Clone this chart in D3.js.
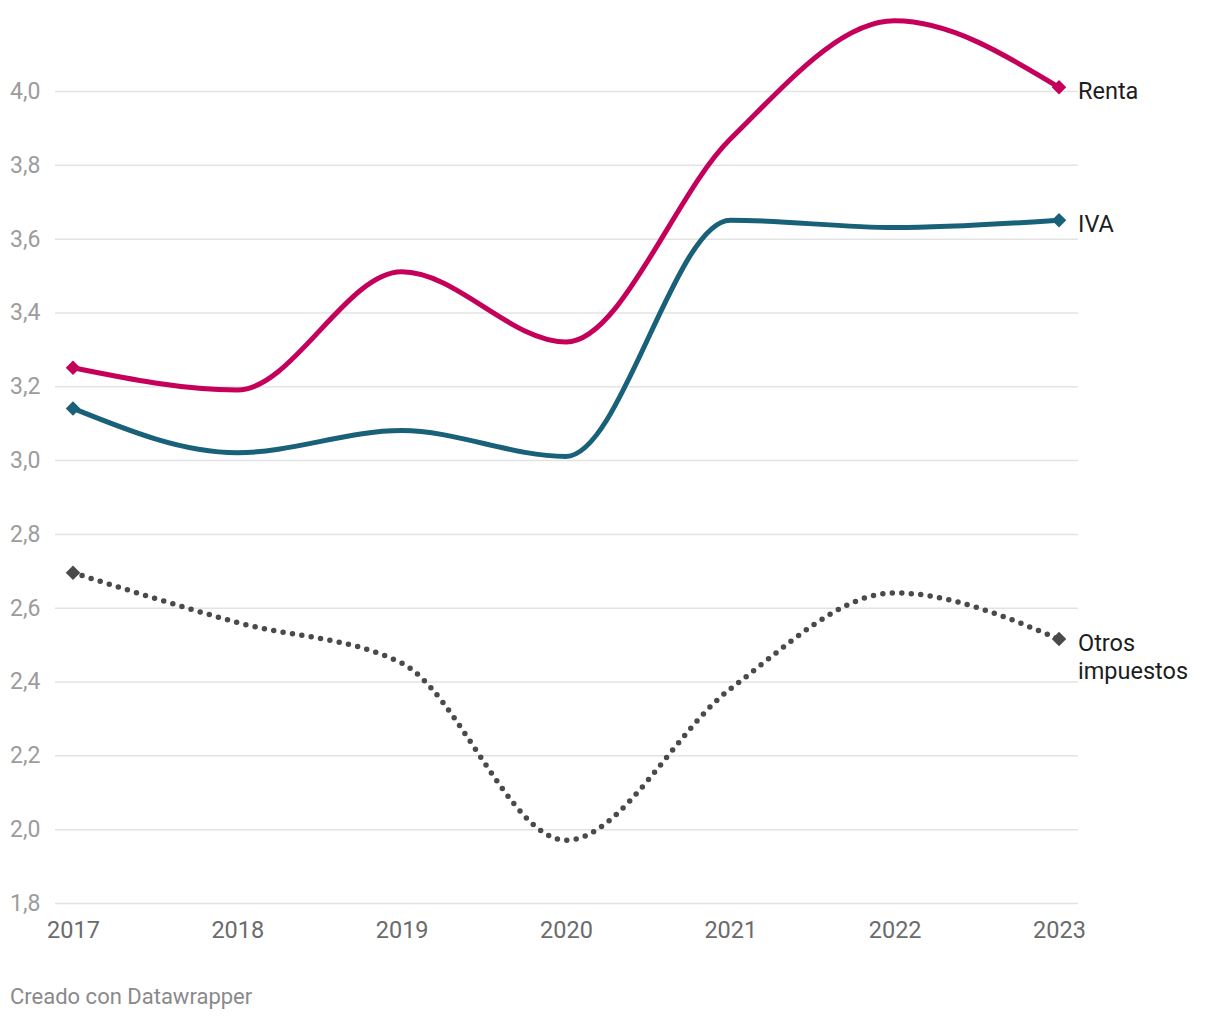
<!DOCTYPE html>
<html><head><meta charset="utf-8">
<script src="https://cdn.jsdelivr.net/npm/d3@7"></script>
<style>body{margin:0;background:#fff;font-family:Roboto,sans-serif}</style>
</head><body><svg id="c" width="1220" height="1020"></svg>
<script>
const years = [2017, 2018, 2019, 2020, 2021, 2022, 2023];
const renta = [3.25, 3.19, 3.51, 3.32, 3.87, 4.19, 4.01];
const iva = [3.14, 3.02, 3.08, 3.01, 3.65, 3.63, 3.65];
const otros = [2.695, 2.56, 2.45, 1.97, 2.38, 2.64, 2.515];
const yTicks = [1.8, 2.0, 2.2, 2.4, 2.6, 2.8, 3.0, 3.2, 3.4, 3.6, 3.8, 4.0];

const svg = d3.select("#c");
const x = d3.scaleLinear().domain([2017, 2023]).range([73, 1059]);
const y = d3.scaleLinear().domain([1.8, 4.0]).range([903, 91]);
const fmt = v => d3.format(".1f")(v).replace(".", ",");

// grid
const yAxis = d3.axisLeft(y).tickValues(yTicks).tickSize(-(1078 - 55)).tickFormat(fmt).tickPadding(13);
const gy = svg.append("g").attr("transform", "translate(55,0)").call(yAxis);
gy.select(".domain").remove();
gy.selectAll(".tick line").attr("stroke", "#e3e3e3").attr("stroke-width", 1.5);
gy.selectAll(".tick text").attr("fill", "#9c9c9c").attr("font-size", 23).attr("font-family", "Roboto").attr("text-anchor", "start").attr("x", -45).attr("dy", "0.32em");

const xAxis = d3.axisBottom(x).tickValues(years).tickFormat(d3.format("d")).tickSize(0).tickPadding(0);
const gx = svg.append("g").attr("transform", "translate(0,903)").call(xAxis);
gx.select(".domain").remove();
gx.selectAll(".tick text").attr("fill", "#6b6b6b").attr("font-size", 23.5).attr("font-family", "Roboto").attr("y", 27).attr("dy", "0.32em");

const line = d3.line().x((d, i) => x(years[i])).y(d => y(d)).curve(d3.curveMonotoneX);
const series = [
  {vals: otros, color: "#4a4a4a", dotted: true},
  {vals: iva, color: "#196079"},
  {vals: renta, color: "#c4005a"}
];
series.forEach(s => {
  const p = svg.append("path").datum(s.vals).attr("d", line).attr("fill", "none")
    .attr("stroke", s.color).attr("stroke-linecap", "round").attr("stroke-linejoin", "round");
  if (s.dotted) p.attr("stroke-width", 5.5).attr("stroke-dasharray", "0 9.5");
  else p.attr("stroke-width", 5);
  [0, s.vals.length - 1].forEach(i => {
    svg.append("path").attr("d", d3.symbol(d3.symbolSquare, 105)())
      .attr("transform", `translate(${x(years[i])},${y(s.vals[i])}) rotate(45)`)
      .attr("fill", s.color);
  });
});

// labels
const labelData = [
  {v: renta[6], t: ["Renta"], off: 3},
  {v: iva[6], t: ["IVA"], off: 4},
  {v: otros[6], t: ["Otros", "impuestos"], off: 4}
];
labelData.forEach(l => {
  const tx = svg.append("text").attr("x", 1078).attr("y", y(l.v) + l.off).attr("font-size", 23.5)
    .attr("fill", "#1d1d1d").attr("font-family", "Roboto");
  l.t.forEach((s, k) => tx.append("tspan").attr("x", 1078).attr("dy", k === 0 ? "0.35em" : "1.18em").text(s));
});

svg.append("text").attr("x", 10).attr("y", 1004).attr("font-size", 22).attr("fill", "#8a8a8a")
  .attr("font-family", "Roboto").text("Creado con Datawrapper");
</script>
</body></html>
